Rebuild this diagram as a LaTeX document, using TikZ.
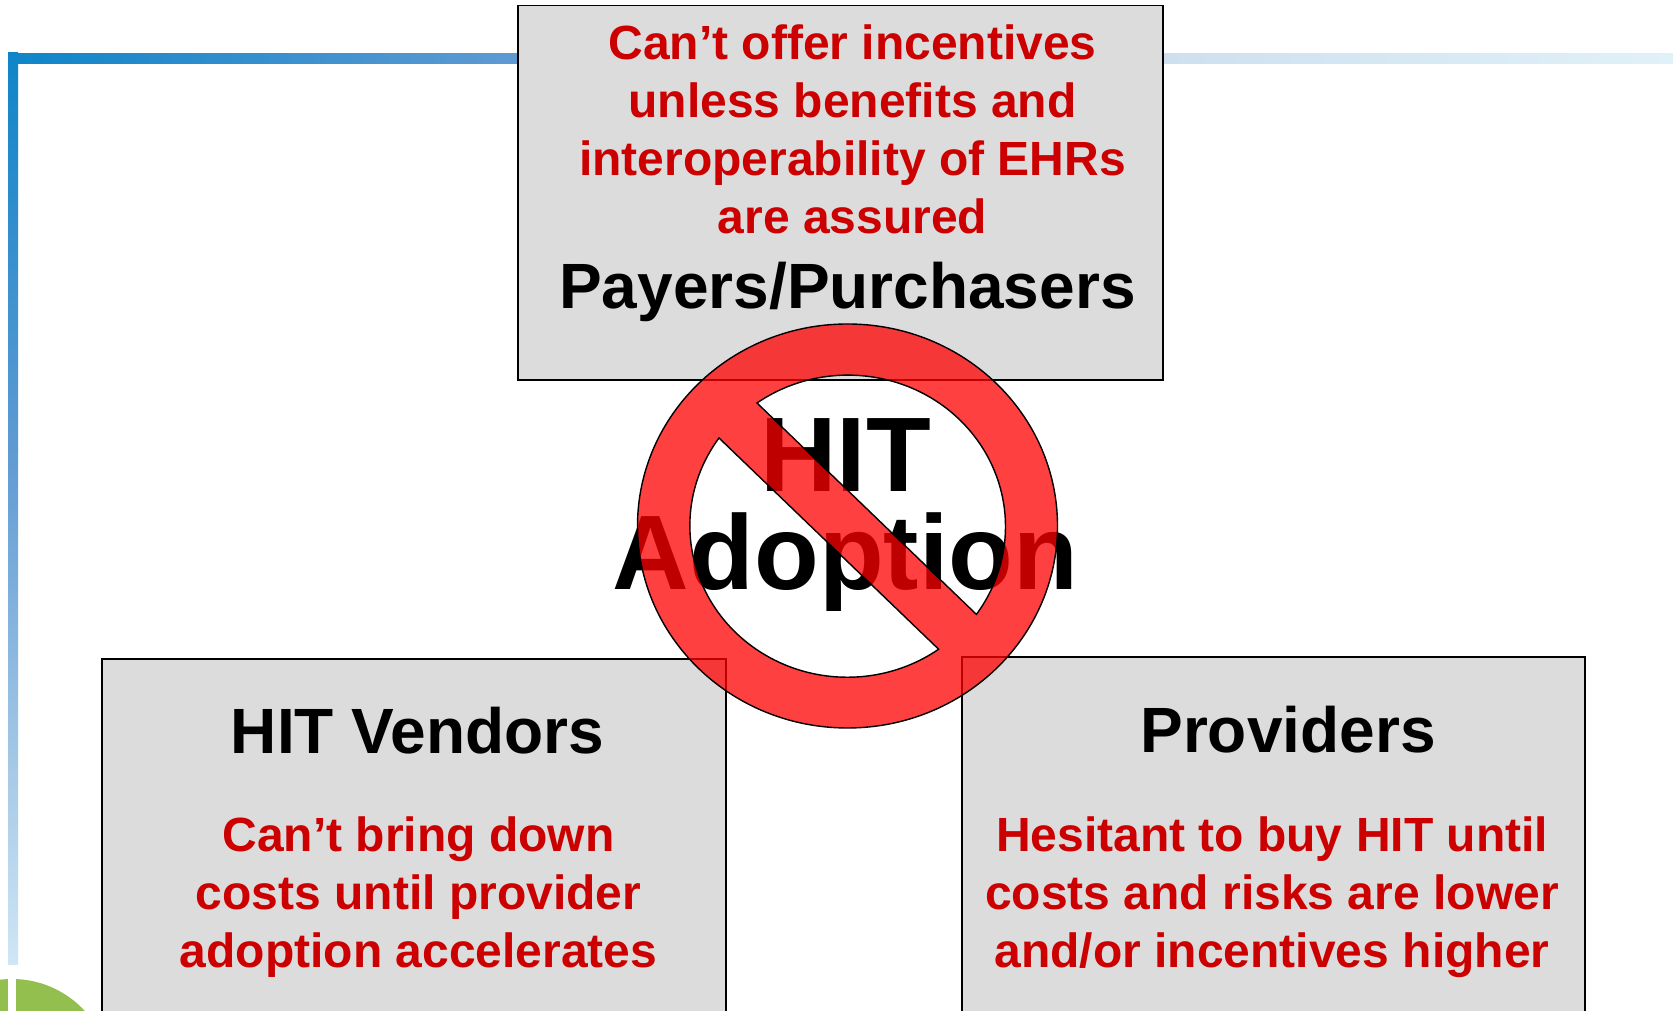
\documentclass[tikz,border=0pt]{standalone}
\usepackage{fontspec}
\setmainfont{Liberation Sans}
\definecolor{boxgray}{HTML}{DCDCDC}
\definecolor{warnred}{HTML}{CC0000}
\definecolor{barA}{HTML}{0F85C9}
\definecolor{barB}{HTML}{5F9AD2}
\definecolor{barC}{HTML}{CEE0F0}
\definecolor{barD}{HTML}{E0F1F8}
\definecolor{barE}{HTML}{D0E6F4}
\definecolor{logogreen}{HTML}{92BF4E}
\tikzset{
  panel/.style={draw=black,line width=1.5pt,fill=boxgray,inner sep=0pt},
  redtxt/.style={text=warnred,font=\fontsize{48}{58}\selectfont\bfseries,align=center,inner sep=0pt},
  headtxt/.style={text=black,font=\fontsize{64}{70}\selectfont\bfseries,align=center,inner sep=0pt},
  bigtxt/.style={text=black,font=\fontsize{106}{98}\selectfont\bfseries,align=center,inner sep=0pt},
}
\begin{document}
\begin{tikzpicture}[x=1pt,y=1pt,line join=miter]
\useasboundingbox (0,0) rectangle (1679,1011);
\clip (0,0) rectangle (1679,1011);
\fill[white] (0,0) rectangle (1679,1011);
% bars
\shade[left color=barA,right color=barB] (13,947) rectangle (518,957);
\shade[left color=barC,right color=barD] (1163,947) rectangle (1673,957);
\shade[top color=barA,bottom color=barB] (8,560) rectangle (18,958);
\shade[top color=barB,bottom color=barE] (8,46) rectangle (18,560.5);
% logo
\fill[logogreen] (12,-67) circle[radius=99];
\fill[white] (8,-1) rectangle (16,35);
% boxes
\draw[panel] (518,1005.5) rectangle (1163,631);
\draw[panel] (102,352) rectangle (726,-20);
\draw[panel] (962,354) rectangle (1585,-20);
% texts
\node[redtxt] (payersnote) at (852.5,881.5) {Can’t offer incentives\\unless benefits and\\interoperability of EHRs\\are assured};
\node[headtxt] (payers) at (847.5,719.5) {Payers/Purchasers};
\node[headtxt] (vendors) at (417.5,280) {HIT Vendors};
\node[headtxt] (providers) at (1288,281.5) {Providers};
\node[redtxt] (vendorsnote) at (418.5,114) {Can’t bring down\\costs until provider\\adoption accelerates};
\node[redtxt] (providersnote) at (1272,114) {Hesitant to buy HIT until\\costs and risks are lower\\and/or incentives higher};
\node[bigtxt] (hit) at (845.5,496) {HIT\\Adoption};
% no sign
\path[draw=black,line width=1.4pt,fill=red,fill opacity=.75,even odd rule]
  (847.5,485) ellipse[x radius=210,y radius=202]
  (757,608) arc[start angle=125.3,end angle=-35.4,x radius=157.5,y radius=151.5] -- cycle
  (719,573) arc[start angle=144.6,end angle=305.4,x radius=157.5,y radius=151.5] -- cycle;
\end{tikzpicture}
\end{document}
